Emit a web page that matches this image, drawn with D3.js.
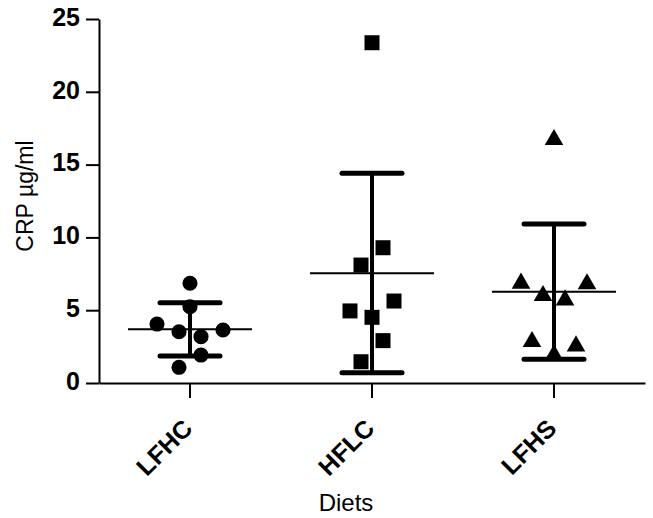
<!DOCTYPE html>
<html>
<head>
<meta charset="utf-8">
<script src="https://cdn.jsdelivr.net/npm/d3@7"></script>
<style>
  body { margin: 0; background: #fff; }
  svg { display: block; font-family: Arial, "Liberation Sans", sans-serif; }
</style>
</head>
<body>
<svg id="chart" width="653" height="518"></svg>
<script>
// diet groups and the CRP readings of each subject
var diets = ["LFHC", "HFLC", "LFHS"];
var lfhc = [6.85, 5.24, 4.05, 3.52, 3.18, 3.64, 1.92, 1.08];
var hflc = [23.37, 9.29, 8.10, 5.63, 4.95, 4.51, 2.91, 1.46];
var lfhs = [16.71, 6.85, 6.80, 6.00, 5.70, 2.84, 2.54, 1.92];
// column slot of each point inside its scatter (Prism style spreading)
var lfhcSlots = [0, 0, -3, -1, 1, 3, 1, -1];
var hflcSlots = [0, 1, -1, 2, -2, 0, 1, -1];
var lfhsSlots = [0, -3, 3, -1, 1, -2, 2, 0];
// mean and mean +/- SD as drawn
var means = [3.69, 7.53, 6.27];
var upper = [5.52, 14.40, 10.92];
var lower = [1.85, 0.71, 1.63];
var yTicks = [0, 5, 10, 15, 20, 25];

var groups = [
    { name: diets[0], values: lfhc, slots: lfhcSlots, shape: d3.symbolCircle, size: 180 },
    { name: diets[1], values: hflc, slots: hflcSlots, shape: d3.symbolSquare, size: 225 },
    { name: diets[2], values: lfhs, slots: lfhsSlots, shape: d3.symbolTriangle, size: 150 }
];

var svg = d3.select("#chart");
var plotLeft = 99, plotRight = 645, plotTop = 19, plotBottom = 383;

var x = d3.scaleBand().domain(diets).range([plotLeft, plotRight]).padding(0);
var y = d3.scaleLinear().domain([0, 25]).range([plotBottom, plotTop]);
var cx = function (d) { return x(d) + x.bandwidth() / 2; };
var slotWidth = 11;

// axes
var yAxis = svg.append("g")
    .attr("transform", "translate(" + plotLeft + ",0)")
    .call(d3.axisLeft(y).tickValues(yTicks).tickSize(13).tickSizeOuter(0).tickPadding(6));
var xAxis = svg.append("g")
    .attr("transform", "translate(0," + plotBottom + ")")
    .call(d3.axisBottom(x).tickSize(15).tickSizeOuter(0));

[yAxis, xAxis].forEach(function (ax) {
    ax.attr("font-size", null).attr("font-family", null);
    ax.select(".domain").attr("stroke", "#000").attr("stroke-width", 2);
    ax.selectAll(".tick line").attr("stroke", "#000").attr("stroke-width", 2);
    ax.selectAll("text")
        .attr("fill", "#000")
        .style("font-size", "25px")
        .style("font-weight", "bold");
});
yAxis.selectAll("text").attr("dy", "0.25em");
xAxis.selectAll(".tick text")
    .attr("x", 0).attr("y", 0).attr("dy", 0)
    .attr("text-anchor", "end")
    .attr("transform", "translate(4,47) rotate(-45)");

// axis titles
svg.append("text")
    .attr("transform", "translate(33,196) rotate(-90)")
    .attr("text-anchor", "middle")
    .style("font-size", "23px")
    .text("CRP \u00b5g/ml");
svg.append("text")
    .attr("x", 346).attr("y", 511)
    .attr("text-anchor", "middle")
    .style("font-size", "24px")
    .text("Diets");

// scatter points
groups.forEach(function (g) {
    var sym = d3.symbol().type(g.shape).size(g.size);
    svg.append("g").selectAll("path")
        .data(g.values)
        .enter().append("path")
        .attr("d", sym)
        .attr("fill", "#000")
        .attr("transform", function (v, i) {
            return "translate(" + (cx(g.name) + g.slots[i] * slotWidth) + "," + y(v) + ")";
        });
});

// mean line and SD error bars
var stats = svg.append("g").attr("stroke", "#000");
diets.forEach(function (d, i) {
    var c = cx(d);
    stats.append("line")
        .attr("x1", c - 62).attr("x2", c + 62)
        .attr("y1", y(means[i])).attr("y2", y(means[i]))
        .attr("stroke-width", 2);
    stats.append("line")
        .attr("x1", c).attr("x2", c)
        .attr("y1", y(lower[i])).attr("y2", y(upper[i]))
        .attr("stroke-width", 4);
    [upper[i], lower[i]].forEach(function (v) {
        stats.append("line")
            .attr("x1", c - 30).attr("x2", c + 30)
            .attr("y1", y(v)).attr("y2", y(v))
            .attr("stroke-width", 5)
            .attr("stroke-linecap", "round");
    });
});
</script>
</body>
</html>
